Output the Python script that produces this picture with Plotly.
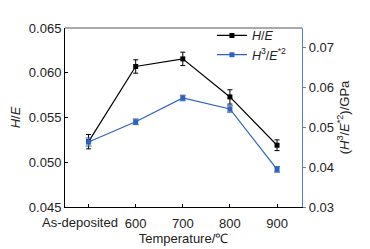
import plotly.graph_objects as go

categories = ["As-deposited", "600", "700", "800", "900"]
he_values = [0.0523, 0.0607, 0.06155, 0.0573, 0.0519]
he_err = [0.0008, 0.00075, 0.00075, 0.0008, 0.0006]
h3e2_values = [0.04625, 0.0513, 0.05725, 0.0545, 0.0394]
h3e2_err = [0.001, 0.0007, 0.0007, 0.0008, 0.0007]
left_ticks = [0.045, 0.050, 0.055, 0.060, 0.065]
right_ticks = [0.03, 0.04, 0.05, 0.06, 0.07]

BLUE = "#2F62BE"
AXBLUE = "#4F80CC"
FONT = "Liberation Sans, Arial, sans-serif"

xs = list(range(len(categories)))
# first label is drawn as an annotation, offset a little left of its tick as in the reference
tick_text = [""] + categories[1:]

fig = go.Figure()
fig.add_trace(go.Scatter(
    x=xs, y=he_values, name="<i>H</i>/<i>E</i>", mode="lines+markers",
    line=dict(color="black", width=1.2),
    marker=dict(symbol="square", size=5, color="black"),
    error_y=dict(type="data", array=he_err, visible=True, color="black", thickness=1, width=2.5),
))
fig.add_trace(go.Scatter(
    x=xs, y=h3e2_values, name="<i>H</i><sup>3</sup>/<i>E</i><sup>*2</sup>", mode="lines+markers",
    yaxis="y2",
    line=dict(color=BLUE, width=1.2),
    marker=dict(symbol="square", size=5, color=BLUE),
    error_y=dict(type="data", array=h3e2_err, visible=True, color=BLUE, thickness=1, width=3),
))

fig.add_annotation(x=xs[0], y=0, xref="x", yref="paper", text=categories[0],
                   showarrow=False, xanchor="center", yanchor="middle",
                   xshift=-9, yshift=-15, font=dict(size=13, family=FONT, color="#222"))

fig.update_layout(
    width=370, height=249,
    margin=dict(l=65, r=68, t=28, b=42),
    paper_bgcolor="white", plot_bgcolor="white",
    font=dict(family=FONT, size=13, color="#222"),
    showlegend=True,
    legend=dict(x=0.62, y=1.04, xanchor="left", yanchor="top", bgcolor="rgba(0,0,0,0)",
                font=dict(size=12.5, family=FONT), itemwidth=30, tracegroupgap=0),
    xaxis=dict(
        range=[-0.5, 4.53], tickmode="array", tickvals=xs, ticktext=tick_text,
        tickangle=0, automargin=False, ticklabelstandoff=4,
        showline=True, linecolor="black", linewidth=1, mirror=False,
        ticks="inside", ticklen=3, tickcolor="black", showgrid=False, zeroline=False,
        title=dict(text="Temperature/\u2103", font=dict(size=13), standoff=2),
    ),
    yaxis=dict(
        range=[0.045, 0.065], tickmode="array", tickvals=left_ticks,
        tickformat=".3f", automargin=False,
        showline=True, linecolor="black", linewidth=1,
        ticks="inside", ticklen=3, tickcolor="black", showgrid=False, zeroline=False,
        title=dict(text="<i>H</i>/<i>E</i>", font=dict(size=13), standoff=5),
    ),
    yaxis2=dict(
        range=[0.03, 0.07475], overlaying="y", side="right", tickmode="array", tickvals=right_ticks,
        tickformat=".2f", automargin=False,
        showline=True, linecolor=AXBLUE, linewidth=1.2,
        ticks="outside", ticklen=3, tickcolor=AXBLUE, showgrid=False, zeroline=False,
        title=dict(text="(<i>H</i><sup>3</sup>/<i>E</i><sup>*2</sup>)/GPa", font=dict(size=13), standoff=6),
    ),
    shapes=[dict(type="line", xref="paper", yref="paper", x0=0, x1=1, y0=1, y1=1,
                 line=dict(color="#555", width=1))],
)

fig.write_html("out.html", config={"displayModeBar": False},
               post_script="document.body.style.margin='0';")
